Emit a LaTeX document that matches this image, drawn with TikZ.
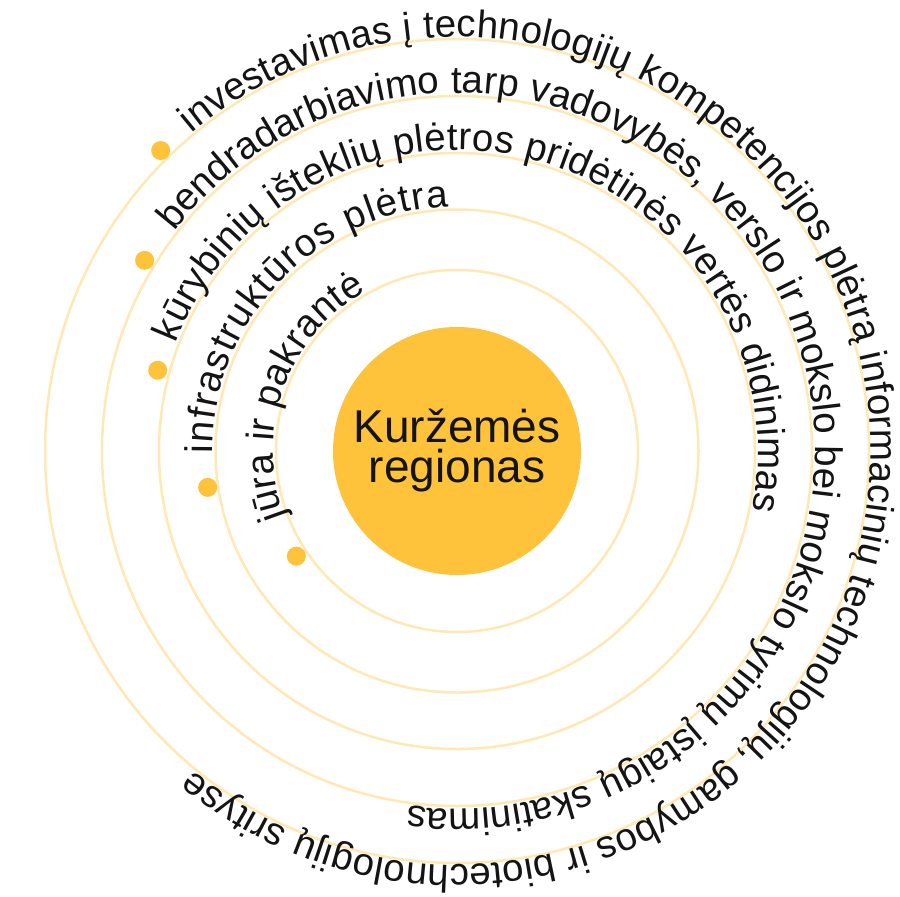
\documentclass[tikz,border=0pt]{standalone}
\usepackage{fontspec}
\setmainfont{Liberation Sans}
\usetikzlibrary{decorations.text}
\definecolor{ringc}{RGB}{255,232,180}
\definecolor{gold}{RGB}{255,194,59}
\definecolor{ink}{RGB}{20,20,20}
\newcommand\ringfont{\fontsize{38.5}{40}\selectfont\color{ink}}
\begin{document}
\begin{tikzpicture}[x=1pt,y=1pt,
  ring/.style={draw=ringc, line width=2.5pt},
  dotmark/.style={circle, fill=gold, inner sep=0pt, minimum size=19pt},
  ringtext/.style={decorate, decoration={text along path, text align={fit to path}, text={|\ringfont|#1}}}
]
\useasboundingbox (0,0) rectangle (900,-897);
\coordinate (c) at (457,-451);
\foreach \r in {181,241.5,298,355,412} \draw[ring] (c) circle[radius=\r];
\node[circle, fill=gold, minimum size=248pt, inner sep=0pt, text=ink, align=center,
      font=\fontsize{46}{40}\selectfont] (core) at (c) {Kuržemės\\regionas};
% dots
\node[dotmark] (d1) at ([shift={(213.2:192)}]c) {};
\node[dotmark] (d2) at ([shift={(188.3:252)}]c) {};
\node[dotmark] (d3) at ([shift={(164.9:310)}]c) {};
\node[dotmark] (d4) at ([shift={(148.6:366)}]c) {};
\node[dotmark] (d5) at ([shift={(134.6:422)}]c) {};
% ring texts
\path[ringtext={jūra ir pakrantė}]
  ([shift={(201:184)}]c) arc[start angle=201, end angle=119.5, radius=184];
\path[ringtext={infrastruktūros plėtra}]
  ([shift={(180.5:244.5)}]c) arc[start angle=180.5, end angle=92, radius=244.5];
\path[ringtext={kūrybinių išteklių plėtros pridėtinės vertės didinimas}]
  ([shift={(159:301)}]c) arc[start angle=159, end angle=-11.3, radius=301];
\path[ringtext={bendradarbiavimo tarp vadovybės, verslo ir mokslo bei mokslo tyrimų įstaigų skatinimas}]
  ([shift={(142.2:358)}]c) arc[start angle=142.2, end angle=-97.8, radius=358];
\path[ringtext={investavimas į technologijų kompetencijos plėtrą informacinių technologijų, gamybos ir biotechnologijų srityse}]
  ([shift={(129.9:414)}]c) arc[start angle=129.9, end angle=-129.6, radius=414];
\end{tikzpicture}
\end{document}
